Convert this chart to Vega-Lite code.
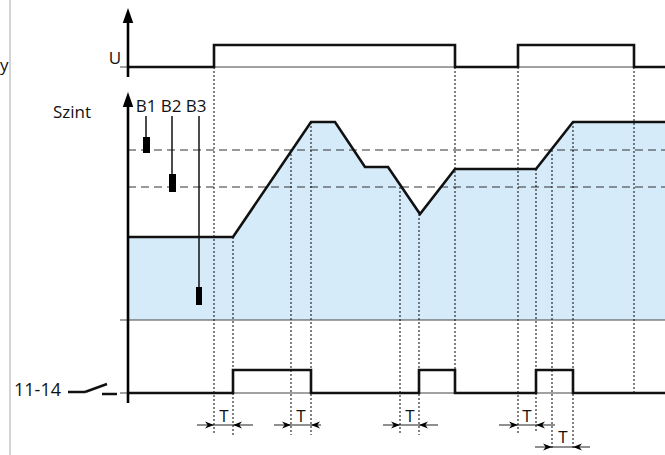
{
  "$schema": "https://vega.github.io/schema/vega-lite/v6.json",
  "width": 665,
  "height": 455,
  "padding": 0,
  "autosize": {"type": "none"},
  "config": {"view": {"stroke": null}, "text": {"font": "Open Sans"}},
  "background": "white",
  "datasets": {
    "level": [
      {"x": 128, "y": 237}, {"x": 233, "y": 237}, {"x": 311, "y": 122}, {"x": 335, "y": 122},
      {"x": 365, "y": 167}, {"x": 388, "y": 167}, {"x": 420, "y": 214}, {"x": 455, "y": 169},
      {"x": 536, "y": 169}, {"x": 573, "y": 122}, {"x": 665, "y": 122}
    ],
    "u": [
      {"x": 128, "y": 67}, {"x": 214, "y": 45}, {"x": 455, "y": 67}, {"x": 518, "y": 45},
      {"x": 634, "y": 67}, {"x": 667, "y": 67}
    ],
    "out": [
      {"x": 128, "y": 393}, {"x": 233, "y": 370}, {"x": 311, "y": 393}, {"x": 419, "y": 370},
      {"x": 455, "y": 393}, {"x": 536, "y": 370}, {"x": 573, "y": 393}, {"x": 667, "y": 393}
    ],
    "dotted": [
      {"x": 214, "y": 67, "y2": 435}, {"x": 233, "y": 237, "y2": 435},
      {"x": 291, "y": 150, "y2": 435}, {"x": 311, "y": 122, "y2": 435},
      {"x": 400, "y": 187, "y2": 435}, {"x": 419, "y": 214, "y2": 435},
      {"x": 455, "y": 67, "y2": 370}, {"x": 518, "y": 67, "y2": 433},
      {"x": 536, "y": 169, "y2": 433}, {"x": 552, "y": 150, "y2": 448},
      {"x": 573, "y": 122, "y2": 448}, {"x": 634, "y": 67, "y2": 393}
    ],
    "dashed": [{"x": 128, "x2": 665, "y": 150}, {"x": 128, "x2": 665, "y": 187}],
    "thin": [{"x": 120, "x2": 665, "y": 67}, {"x": 120, "x2": 665, "y": 320}, {"x": 120, "x2": 665, "y": 393}],
    "axes": [{"x": 128, "y": 20, "y2": 77}, {"x": 128, "y": 103, "y2": 403}],
    "arrUp": [{"x": 128, "y": 8}, {"x": 128, "y": 92}],
    "eline": [{"x": 146, "y": 116, "y2": 137}, {"x": 172, "y": 116, "y2": 174}, {"x": 199, "y": 116, "y2": 287}],
    "erect": [
      {"x": 143, "x2": 150, "y": 137, "y2": 153},
      {"x": 169, "x2": 176, "y": 174, "y2": 192},
      {"x": 196, "x2": 202, "y": 287, "y2": 305}
    ],
    "switch": [
      {"x": 68, "y": 392, "x2": 85, "y2": 392},
      {"x": 85, "y": 392, "x2": 107, "y2": 384},
      {"x": 102, "y": 394, "x2": 117, "y2": 394}
    ],
    "tspan": [
      {"x": 197, "x2": 253, "y": 425}, {"x": 274, "x2": 321, "y": 425},
      {"x": 383, "x2": 438, "y": 425}, {"x": 499, "x2": 555, "y": 425},
      {"x": 535, "x2": 590, "y": 447}
    ],
    "arrR": [{"x": 214, "y": 425}, {"x": 291, "y": 425}, {"x": 400, "y": 425}, {"x": 518, "y": 425}, {"x": 552, "y": 447}],
    "arrL": [{"x": 233, "y": 425}, {"x": 311, "y": 425}, {"x": 419, "y": 425}, {"x": 536, "y": 425}, {"x": 573, "y": 447}],
    "gray": [{"x": 10, "y": 0, "y2": 455}],
    "labC": [
      {"x": 146, "y": 112, "text": "B1"}, {"x": 171, "y": 112, "text": "B2"}, {"x": 196, "y": 112, "text": "B3"},
      {"x": 115, "y": 64, "text": "U"},
      {"x": 224, "y": 422, "text": "T"}, {"x": 301, "y": 422, "text": "T"}, {"x": 410, "y": 422, "text": "T"},
      {"x": 527, "y": 422, "text": "T"}, {"x": 563, "y": 443, "text": "T"}
    ],
    "labL": [{"x": 53, "y": 118, "text": "Szint"}],
    "labOut": [{"x": 14, "y": 396, "text": "11-14"}],
    "labR": [{"x": 0, "y": 71, "text": "y"}]
  },
  "encoding": {
    "x": {"field": "x", "type": "quantitative", "scale": {"domain": [0, 665], "nice": false, "zero": false}, "axis": null},
    "y": {"field": "y", "type": "quantitative", "scale": {"domain": [0, 455], "nice": false, "zero": false, "reverse": true}, "axis": null}
  },
  "layer": [
    {"data": {"name": "gray"}, "mark": {"type": "rule", "color": "#a8a8a8", "strokeWidth": 1}, "encoding": {"y2": {"field": "y2"}}},
    {"data": {"name": "level"}, "mark": {"type": "area", "color": "#d5ebfa", "opacity": 1}, "encoding": {"y2": {"datum": 320}}},
    {"data": {"name": "thin"}, "mark": {"type": "rule", "color": "#444", "strokeWidth": 1}, "encoding": {"x2": {"field": "x2"}}},
    {"data": {"name": "dashed"}, "mark": {"type": "rule", "color": "#333", "strokeWidth": 1.2, "strokeDash": [8, 5]}, "encoding": {"x2": {"field": "x2"}}},
    {"data": {"name": "dotted"}, "mark": {"type": "rule", "color": "#1a1a1a", "strokeWidth": 1.1, "strokeDash": [2, 2]}, "encoding": {"y2": {"field": "y2"}}},
    {"data": {"name": "level"}, "mark": {"type": "line", "color": "#111", "strokeWidth": 2.6, "strokeJoin": "miter"}},
    {"data": {"name": "u"}, "mark": {"type": "line", "color": "#111", "strokeWidth": 2.6, "interpolate": "step-after", "strokeJoin": "miter", "clip": false}},
    {"data": {"name": "out"}, "mark": {"type": "line", "color": "#111", "strokeWidth": 2.6, "interpolate": "step-after", "strokeJoin": "miter", "clip": false}},
    {"data": {"name": "axes"}, "mark": {"type": "rule", "color": "#000", "strokeWidth": 2.6}, "encoding": {"y2": {"field": "y2"}}},
    {"data": {"name": "arrUp"}, "mark": {"type": "point", "filled": true, "color": "#000", "opacity": 1, "strokeWidth": 0, "size": 900, "shape": "M0,0 L-0.35,1 L0.35,1 Z"}},
    {"data": {"name": "eline"}, "mark": {"type": "rule", "color": "#111", "strokeWidth": 1.5}, "encoding": {"y2": {"field": "y2"}}},
    {"data": {"name": "erect"}, "mark": {"type": "rect", "color": "#000"}, "encoding": {"x2": {"field": "x2"}, "y2": {"field": "y2"}}},
    {"data": {"name": "switch"}, "mark": {"type": "rule", "color": "#111", "strokeWidth": 2.5}, "encoding": {"x2": {"field": "x2"}, "y2": {"field": "y2"}}},
    {"data": {"name": "tspan"}, "mark": {"type": "rule", "color": "#222", "strokeWidth": 1.1}, "encoding": {"x2": {"field": "x2"}}},
    {"data": {"name": "arrR"}, "mark": {"type": "point", "filled": true, "color": "#000", "opacity": 1, "strokeWidth": 0, "size": 324, "shape": "M0,0 L-1,-0.4 L-0.7,0 L-1,0.4 Z"}},
    {"data": {"name": "arrL"}, "mark": {"type": "point", "filled": true, "color": "#000", "opacity": 1, "strokeWidth": 0, "size": 324, "shape": "M0,0 L1,-0.4 L0.7,0 L1,0.4 Z"}},
    {"data": {"name": "labC"}, "mark": {"type": "text", "fontSize": 17, "align": "center", "baseline": "alphabetic", "color": "#111"}, "encoding": {"text": {"field": "text"}}},
    {"data": {"name": "labL"}, "mark": {"type": "text", "fontSize": 17, "align": "left", "baseline": "alphabetic", "color": "#111"}, "encoding": {"text": {"field": "text"}}},
    {"data": {"name": "labOut"}, "mark": {"type": "text", "fontSize": 18, "align": "left", "baseline": "alphabetic", "color": "#111"}, "encoding": {"text": {"field": "text"}}},
    {"data": {"name": "labR"}, "mark": {"type": "text", "fontSize": 17, "align": "left", "baseline": "alphabetic", "color": "#111"}, "encoding": {"text": {"field": "text"}}}
  ]
}
